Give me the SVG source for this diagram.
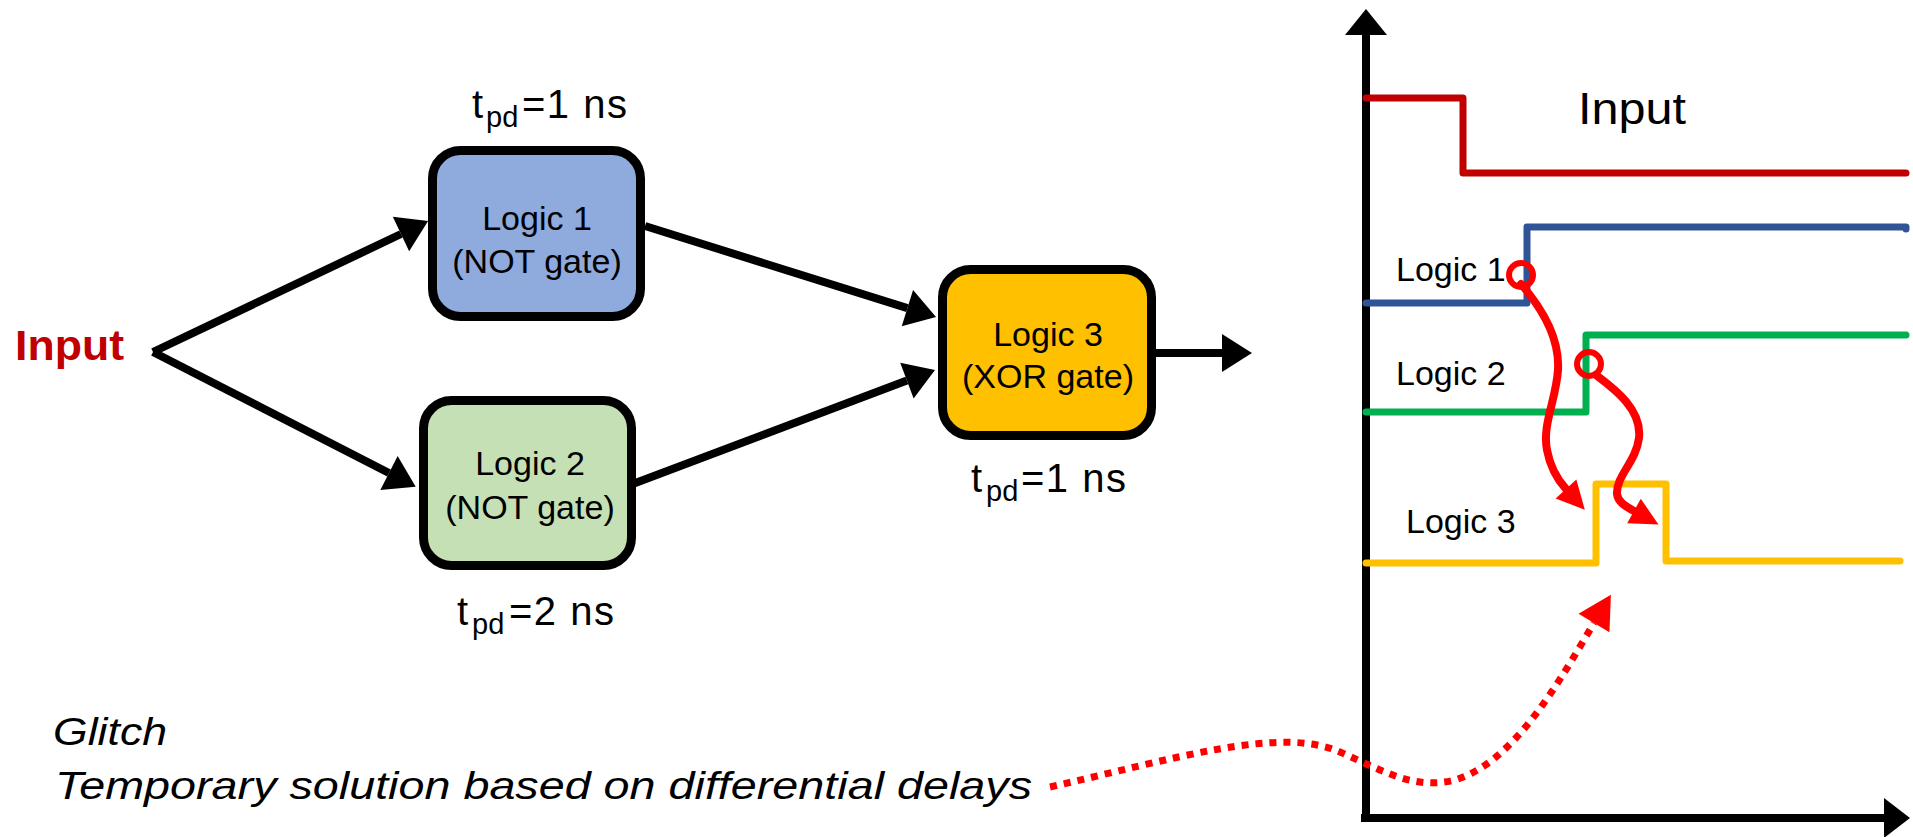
<svg xmlns="http://www.w3.org/2000/svg" width="1913" height="837" viewBox="0 0 1913 837">
  <style>
    .box { stroke: #000; stroke-width: 9; }
    .lbl { font-family: "Liberation Sans", Arial, sans-serif; font-size: 34px; fill: #000; }
    .tpd { font-family: "Liberation Sans", Arial, sans-serif; font-size: 40px; fill: #000; }
    .note { font-family: "Liberation Sans", Arial, sans-serif; font-size: 39px; font-style: italic; fill: #000; }
    .wire { fill: none; stroke: #000; stroke-width: 8; }
    .wave { fill: none; stroke-width: 7; stroke-linecap: round; stroke-linejoin: round; }
    .hint { fill: none; stroke: #FF0000; stroke-width: 8; stroke-linecap: round; }
  </style>
  <defs>
    <marker id="arrow-black" markerUnits="userSpaceOnUse" markerWidth="32" markerHeight="40" refX="0" refY="20" orient="auto" overflow="visible">
      <path d="M0,1 L30,20 L0,39 Z" fill="#000"/>
    </marker>
    <marker id="arrow-red" markerUnits="userSpaceOnUse" markerWidth="30" markerHeight="28" refX="0" refY="14" orient="auto" overflow="visible">
      <path d="M0,0 L28,14 L0,28 Z" fill="#FF0000"/>
    </marker>
    <marker id="arrow-red-big" markerUnits="userSpaceOnUse" markerWidth="36" markerHeight="38" refX="0" refY="19" orient="auto" overflow="visible">
      <path d="M0,1 L33,19 L0,37 Z" fill="#FF0000"/>
    </marker>
  </defs>

  <rect width="1913" height="837" fill="#fff"/>

  <!-- circuit nodes -->
  <g id="input">
    <text x="15" y="360" font-family="'Liberation Sans', Arial, sans-serif" font-size="43" font-weight="bold" fill="#C00000" textLength="109" lengthAdjust="spacingAndGlyphs">Input</text>
  </g>

  <g id="logic1">
    <rect class="box" x="432.5" y="150.5" width="208" height="166" rx="28" fill="#8FAADC"/>
    <text class="lbl" x="537" y="230" text-anchor="middle">Logic 1</text>
    <text class="lbl" x="537" y="273" text-anchor="middle">(NOT gate)</text>
    <text class="tpd" x="472" y="118">t<tspan x="486" y="127" font-size="29">pd</tspan><tspan x="522" y="118" letter-spacing="1.5">=1 ns</tspan></text>
  </g>

  <g id="logic2">
    <rect class="box" x="423.5" y="400.5" width="208" height="165" rx="28" fill="#C5E0B4"/>
    <text class="lbl" x="530" y="475" text-anchor="middle">Logic 2</text>
    <text class="lbl" x="530" y="519" text-anchor="middle">(NOT gate)</text>
    <text class="tpd" x="457" y="625">t<tspan x="472" y="634" font-size="29">pd</tspan><tspan x="509" y="625" letter-spacing="1.5">=2 ns</tspan></text>
  </g>

  <g id="logic3">
    <rect class="box" x="942.5" y="269.5" width="209" height="166" rx="28" fill="#FFC000"/>
    <text class="lbl" x="1048" y="346" text-anchor="middle">Logic 3</text>
    <text class="lbl" x="1048" y="388" text-anchor="middle">(XOR gate)</text>
    <text class="tpd" x="971" y="492">t<tspan x="986" y="501" font-size="29">pd</tspan><tspan x="1021" y="492" letter-spacing="1.5">=1 ns</tspan></text>
  </g>

  <!-- connectors -->
  <g id="connectors">
    <path class="wire" d="M153,352 L401,234" marker-end="url(#arrow-black)"/>
    <path class="wire" d="M153,352 L389,473" marker-end="url(#arrow-black)"/>
    <path class="wire" d="M645,226 L907.4,308.1" marker-end="url(#arrow-black)"/>
    <path class="wire" d="M630,485 L906.9,380.6" marker-end="url(#arrow-black)"/>
    <path class="wire" d="M1156,353 L1222,353" marker-end="url(#arrow-black)"/>
  </g>

  <!-- timing chart -->
  <g id="timing-chart">
    <line x1="1366" y1="822" x2="1366" y2="33" stroke="#000" stroke-width="8"/>
    <polygon points="1366,9 1387,35 1345,35" fill="#000"/>
    <line x1="1361" y1="818" x2="1885" y2="818" stroke="#000" stroke-width="8"/>
    <polygon points="1910,818 1884,798 1884,838" fill="#000"/>

    <path class="wave" stroke="#C00000" d="M1366,98 H1463 V173 H1906"/>
    <path class="wave" stroke="#2F5597" d="M1366,303 H1527 V227 H1906 L1906,229"/>
    <path class="wave" stroke="#00B050" d="M1366,412 H1586 V335 H1906"/>
    <path class="wave" stroke="#FFC000" d="M1366,563 H1596 V484 H1666 V561 H1900"/>

    <text x="1578" y="124" font-family="'Liberation Sans', Arial, sans-serif" font-size="44" fill="#000" textLength="108" lengthAdjust="spacingAndGlyphs">Input</text>
    <text class="lbl" x="1396" y="281">Logic 1</text>
    <text class="lbl" x="1396" y="385">Logic 2</text>
    <text class="lbl" x="1406" y="533">Logic 3</text>

    <circle cx="1521" cy="275" r="12" fill="none" stroke="#FF0000" stroke-width="6"/>
    <circle cx="1589" cy="364" r="12" fill="none" stroke="#FF0000" stroke-width="6"/>
    <path class="hint" d="M1521,284 C1540,306 1560,336 1558,370 C1556,400 1542,425 1547,450 C1550,466 1556,478 1566,489" marker-end="url(#arrow-red)"/>
    <path class="hint" d="M1596,375 C1616,390 1642,410 1639,438 C1636,462 1616,476 1617,494 C1618,502 1625,506 1634,511" marker-end="url(#arrow-red)"/>
  </g>

  <!-- notes -->
  <g id="notes">
    <text class="note" x="53" y="745" textLength="114" lengthAdjust="spacingAndGlyphs">Glitch</text>
    <text class="note" x="55" y="799" textLength="977" lengthAdjust="spacingAndGlyphs">Temporary solution based on differential delays</text>
    <path d="M1050,787 C1170,760 1280,725 1340,752 C1385,772 1415,790 1455,780 C1515,762 1560,680 1594,623" fill="none" stroke="#FF0000" stroke-width="7" stroke-dasharray="7 7" marker-end="url(#arrow-red-big)"/>
  </g>
</svg>
